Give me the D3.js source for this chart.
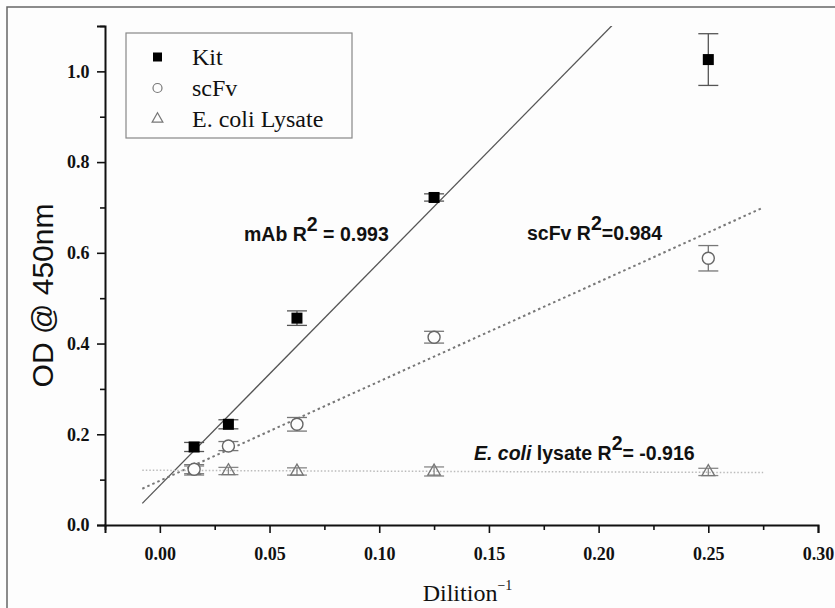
<!DOCTYPE html>
<html lang="en">
<head>
    <meta charset="UTF-8">
    <title>OD @ 450nm vs Dilition</title>
    <style>
        html, body { margin: 0; padding: 0; background: #fdfdfd; }
        svg { display: block; }
    </style>
</head>
<body>
    <div id="chart"></div>

    <script src="https://d3js.org/d3.v7.min.js"></script>
    <script>
        // data
        const dilutions = [1 / 64, 1 / 32, 1 / 16, 1 / 8, 1 / 4];
        const kitOD = [0.172, 0.222, 0.456, 0.722, 1.026];
        const kitErr = [0.010, 0.010, 0.016, 0.008, 0.057];
        const scfvOD = [0.123, 0.174, 0.222, 0.414, 0.588];
        const scfvErr = [0.010, 0.010, 0.015, 0.013, 0.028];
        const lysateOD = [0.120, 0.119, 0.118, 0.118, 0.117];
        const lysateErr = [0.010, 0.008, 0.008, 0.010, 0.008];

        // linear fits (slope, intercept) and the x range they are drawn over
        const fitRange = [-0.008, 0.275];
        const mabFit = [4.92, 0.087];
        const scfvFit = [2.19, 0.0975];
        const lysateFit = [-0.018, 0.1205];

        const xMajor = [0, 0.05, 0.10, 0.15, 0.20, 0.25, 0.30];
        const xMinor = [-0.025, 0.025, 0.075, 0.125, 0.175, 0.225, 0.275];
        const yMajor = [0, 0.2, 0.4, 0.6, 0.8, 1.0];
        const yMinor = [0.1, 0.3, 0.5, 0.7, 0.9, 1.1];

        const legendNames = ["Kit", "scFv", "E. coli Lysate"];

        const width = 835;
        const height = 608;
        const margin = { top: 26, right: 17, bottom: 83, left: 105 };
        const plotW = width - margin.left - margin.right;
        const plotH = height - margin.top - margin.bottom;

        const serif = "'Liberation Serif', 'Times New Roman', serif";
        const sans = "'Liberation Sans', Arial, sans-serif";

        const svg = d3.select("#chart").append("svg")
            .attr("width", width)
            .attr("height", height);

        // outer frame of the picture
        svg.append("rect")
            .attr("x", 7).attr("y", 7)
            .attr("width", width + 20).attr("height", height + 20)
            .attr("fill", "#fdfdfd")
            .attr("stroke", "#666")
            .attr("stroke-width", 1.5);

        const g = svg.append("g")
            .attr("transform", `translate(${margin.left}, ${margin.top})`);

        const x = d3.scaleLinear().domain([-0.025, 0.30]).range([0, plotW]);
        const y = d3.scaleLinear().domain([0, 1.1]).range([plotH, 0]);

        g.append("clipPath").attr("id", "clip")
            .append("rect").attr("width", plotW).attr("height", plotH);

        // fit lines
        function fitLine(fit) {
            return fitRange.map(v => [x(v), y(fit[0] * v + fit[1])]);
        }
        const line = d3.line();

        g.append("path")
            .attr("clip-path", "url(#clip)")
            .attr("d", line(fitLine(mabFit)))
            .attr("fill", "none")
            .attr("stroke", "#555")
            .attr("stroke-width", 1.3);

        g.append("path")
            .attr("d", line(fitLine(scfvFit)))
            .attr("fill", "none")
            .attr("stroke", "#777")
            .attr("stroke-width", 2)
            .attr("stroke-dasharray", "2.5,3");

        g.append("path")
            .attr("d", line(fitLine(lysateFit)))
            .attr("fill", "none")
            .attr("stroke", "#bbb")
            .attr("stroke-width", 1.5)
            .attr("stroke-dasharray", "1.5,2");

        // error bars
        function errorBars(values, errs, color) {
            const eb = g.append("g").attr("stroke", color).attr("stroke-width", 1.3);
            dilutions.forEach((d, i) => {
                const cx = x(d);
                const y1 = y(values[i] + errs[i]);
                const y2 = y(values[i] - errs[i]);
                eb.append("line").attr("x1", cx).attr("x2", cx).attr("y1", y1).attr("y2", y2);
                eb.append("line").attr("x1", cx - 10).attr("x2", cx + 10).attr("y1", y1).attr("y2", y1);
                eb.append("line").attr("x1", cx - 10).attr("x2", cx + 10).attr("y1", y2).attr("y2", y2);
            });
        }
        errorBars(lysateOD, lysateErr, "#888");
        errorBars(scfvOD, scfvErr, "#777");
        errorBars(kitOD, kitErr, "#555");

        const tri = d3.symbol().type(d3.symbolTriangle).size(70);

        g.append("g").selectAll("path")
            .data(dilutions)
            .join("path")
            .attr("d", tri)
            .attr("transform", (d, i) => `translate(${x(d)}, ${y(lysateOD[i])})`)
            .attr("fill", "none")
            .attr("stroke", "#777")
            .attr("stroke-width", 1.3);

        g.append("g").selectAll("circle")
            .data(dilutions)
            .join("circle")
            .attr("cx", d => x(d))
            .attr("cy", (d, i) => y(scfvOD[i]))
            .attr("r", 6)
            .attr("fill", "#fdfdfd")
            .attr("stroke", "#666")
            .attr("stroke-width", 1.4);

        g.append("g").selectAll("rect")
            .data(dilutions)
            .join("rect")
            .attr("x", d => x(d) - 5.5)
            .attr("y", (d, i) => y(kitOD[i]) - 5.5)
            .attr("width", 11)
            .attr("height", 11)
            .attr("fill", "#000");

        // axes
        const xAxis = g.append("g")
            .attr("transform", `translate(0, ${plotH})`)
            .call(d3.axisBottom(x).tickValues(xMajor).tickSize(8).tickFormat(d3.format(".2f")));
        g.append("g")
            .attr("transform", `translate(0, ${plotH})`)
            .call(d3.axisBottom(x).tickValues(xMinor).tickSize(5).tickFormat(""))
            .select(".domain").remove();

        const yAxis = g.append("g")
            .call(d3.axisLeft(y).tickValues(yMajor).tickSize(8).tickFormat(d3.format(".1f")));
        g.append("g")
            .call(d3.axisLeft(y).tickValues(yMinor).tickSize(5).tickFormat(""))
            .select(".domain").remove();

        g.selectAll(".domain").attr("stroke", "#111").attr("stroke-width", 2);
        g.selectAll(".tick line").attr("stroke", "#111").attr("stroke-width", 1.6);

        xAxis.selectAll("text")
            .attr("dy", "1.35em")
            .style("font-family", serif)
            .style("font-weight", "bold")
            .style("font-size", "18px")
            .attr("fill", "#111");

        yAxis.selectAll("text")
            .attr("dx", "-0.25em")
            .style("font-family", serif)
            .style("font-weight", "bold")
            .style("font-size", "18px")
            .attr("fill", "#111");

        // axis titles
        svg.append("text")
            .attr("transform", `translate(53, ${margin.top + plotH / 2 + 20}) rotate(-90)`)
            .attr("text-anchor", "middle")
            .style("font-family", sans)
            .style("font-size", "30px")
            .attr("fill", "#111")
            .text("OD @ 450nm");

        const xTitle = svg.append("text")
            .attr("x", margin.left + plotW / 2 + 6)
            .attr("y", 601)
            .attr("text-anchor", "middle")
            .style("font-family", serif)
            .style("font-size", "24px")
            .attr("fill", "#111");
        xTitle.append("tspan").text("Dilition");
        xTitle.append("tspan").attr("dy", -11).style("font-size", "14px").text("\u22121");

        // R² annotations
        function annotate(px, py, parts) {
            const t = svg.append("text")
                .attr("x", px).attr("y", py)
                .style("font-family", sans)
                .style("font-weight", "bold")
                .style("font-size", "19.5px")
                .attr("fill", "#111");
            parts.forEach(p => {
                const s = t.append("tspan").text(p.text);
                if (p.italic) s.style("font-style", "italic");
                if (p.sup) s.attr("dy", -10);
                if (p.down) s.attr("dy", 10);
            });
        }
        annotate(244, 241, [{ text: "mAb R" }, { text: "2", sup: true }, { text: " = 0.993", down: true }]);
        annotate(527, 240, [{ text: "scFv R" }, { text: "2", sup: true }, { text: "=0.984", down: true }]);
        annotate(474, 460, [{ text: "E. coli", italic: true }, { text: " lysate R" }, { text: "2", sup: true }, { text: "= -0.916", down: true }]);

        // legend
        const legend = svg.append("g");
        legend.append("rect")
            .attr("x", 126).attr("y", 33)
            .attr("width", 226).attr("height", 105)
            .attr("fill", "#fdfdfd")
            .attr("stroke", "#888")
            .attr("stroke-width", 1.2);

        const rowsY = [57, 88, 119];
        legend.append("rect")
            .attr("x", 153).attr("y", rowsY[0] - 4.5)
            .attr("width", 9).attr("height", 9)
            .attr("fill", "#000");
        legend.append("circle")
            .attr("cx", 157.5).attr("cy", rowsY[1])
            .attr("r", 4.5)
            .attr("fill", "none").attr("stroke", "#777").attr("stroke-width", 1.2);
        legend.append("path")
            .attr("d", d3.symbol().type(d3.symbolTriangle).size(50))
            .attr("transform", `translate(157.5, ${rowsY[2]})`)
            .attr("fill", "none").attr("stroke", "#777").attr("stroke-width", 1.2);

        legend.selectAll("text.name")
            .data(legendNames)
            .join("text")
            .attr("class", "name")
            .attr("x", 192)
            .attr("y", (d, i) => rowsY[i] + 8)
            .style("font-family", serif)
            .style("font-size", "24px")
            .attr("fill", "#111")
            .text(d => d);
    </script>
</body>
</html>
